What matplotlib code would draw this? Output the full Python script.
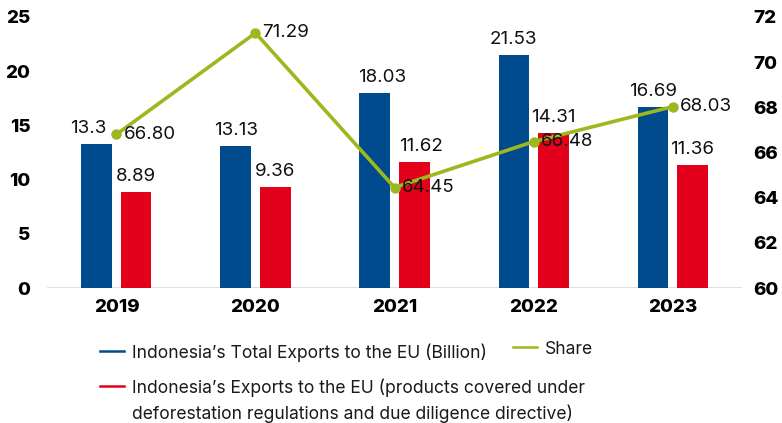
import numpy as np
import matplotlib.pyplot as plt
from matplotlib.lines import Line2D

plt.rcParams['font.family'] = ['Inter', 'DejaVu Sans']

years = ['2019', '2020', '2021', '2022', '2023']
total_exports = [13.3, 13.13, 18.03, 21.53, 16.69]
covered_exports = [8.89, 9.36, 11.62, 14.31, 11.36]
share = [66.80, 71.29, 64.45, 66.48, 68.03]
total_labels = ['13.3', '13.13', '18.03', '21.53', '16.69']
covered_labels = ['8.89', '9.36', '11.62', '14.31', '11.36']
share_labels = ['66.80', '71.29', '64.45', '66.48', '68.03']

blue = '#004B8D'
red = '#E2001A'
green = '#9DB81F'

fig = plt.figure(figsize=(7.82, 4.23), dpi=100)
ax = fig.add_axes([0.060, 0.319, 0.889, 0.641])
ax2 = ax.twinx()

x = np.arange(len(years))
w = 0.22
off = 0.142

ax.bar(x - off, total_exports, w, color=blue, zorder=2)
ax.bar(x + off, covered_exports, w, color=red, zorder=2)

# nudge a couple of labels sideways so they clear the share line
total_dx = [-6, 0, 5, 0, 0]
covered_dx = [0, 0, 5, 0, 0]
for xi, v, s, dx in zip(x, total_exports, total_labels, total_dx):
    ax.annotate(s, (xi - off, v), xytext=(dx, 5), textcoords='offset points',
                ha='center', va='bottom', fontsize=13.5, color='#111111')
for xi, v, s, dx in zip(x, covered_exports, covered_labels, covered_dx):
    ax.annotate(s, (xi + off, v), xytext=(dx, 5), textcoords='offset points',
                ha='center', va='bottom', fontsize=13.5, color='#111111')

ax.set_xlim(-0.5, 4.5)
ax.set_ylim(0, 25)
ax.set_yticks(range(0, 26, 5))
ax.set_xticks(x)
ax.set_xticklabels(years)
for s in ax.spines.values():
    s.set_visible(False)
for s in ax2.spines.values():
    s.set_visible(False)
ax.axhline(0, color='#d9d9d9', lw=1.2, zorder=1)
ax.tick_params(axis='y', length=0, pad=12, labelsize=13.5)
ax.tick_params(axis='x', length=0, pad=8, labelsize=13.5)
for t in ax.get_yticklabels() + ax.get_xticklabels():
    t.set_fontweight('heavy')

ax2.plot(x, share, color=green, lw=2.6, marker='o', ms=6.5, zorder=3)
for xi, v, s in zip(x, share, share_labels):
    ax2.annotate(s, (xi, v), xytext=(5, 0), textcoords='offset points',
                 ha='left', va='center', fontsize=13.5, color='#111111')
ax2.set_ylim(60, 72)
ax2.set_yticks(range(60, 73, 2))
ax2.tick_params(axis='y', length=0, pad=8, labelsize=13.5)
for t in ax2.get_yticklabels():
    t.set_fontweight('heavy')

# legend drawn by hand in figure pixels
W, H = 782, 423
def fx(px):
    return px / W
def fy(py):
    return 1 - py / H

entries = [
    (100, 351, blue, ["Indonesia\u2019s Total Exports to the EU (Billion)"]),
    (513, 347, green, ["Share"]),
    (100, 386, red, ["Indonesia\u2019s Exports to the EU (products covered under",
                     "deforestation regulations and due diligence directive)"]),
]
for px, py, col, lines in entries:
    fig.add_artist(Line2D([fx(px), fx(px + 24)], [fy(py), fy(py)], color=col, lw=1.8))
    for i, line in enumerate(lines):
        fig.text(fx(px + 32), fy(py + 26 * i), line, ha='left', va='center_baseline',
                 fontsize=12.6, color='#1a1a1a')

fig.savefig('out.png', dpi=100)
